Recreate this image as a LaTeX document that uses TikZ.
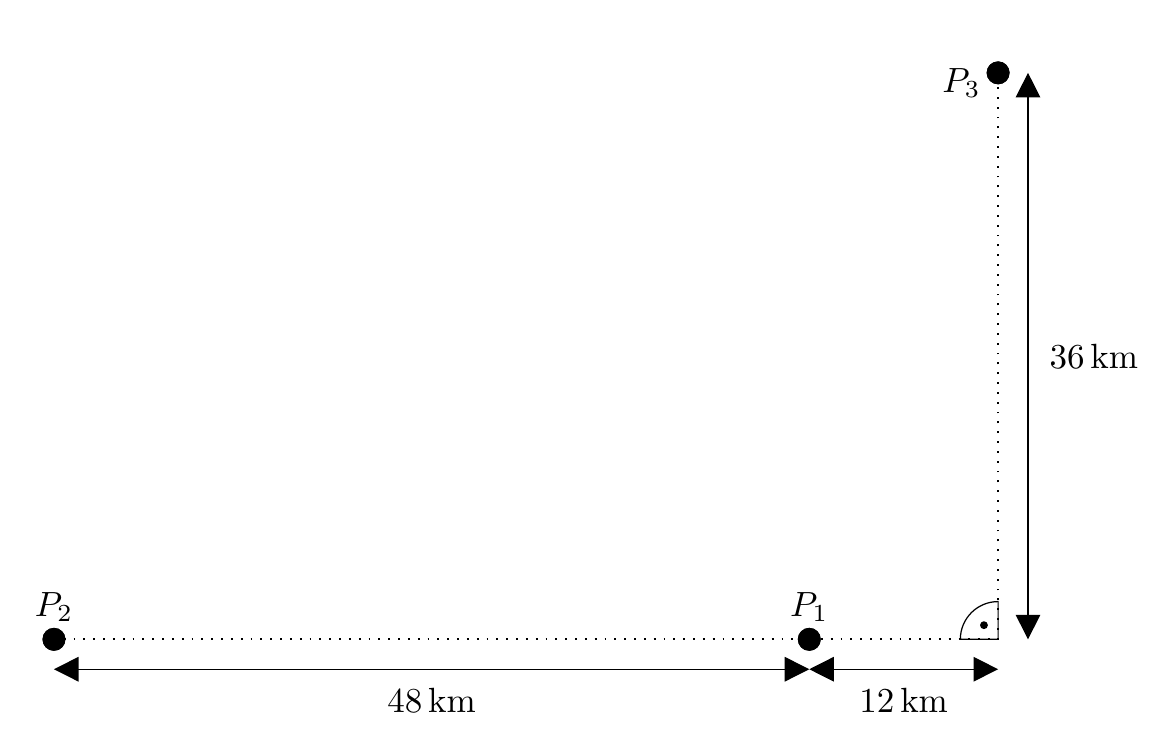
\documentclass[tikz,border=0pt]{standalone}
\usepackage{amsmath}
\usetikzlibrary{arrows.meta,positioning}

\begin{document}
\begin{tikzpicture}[x=0.18cm,y=0.18cm,semithick,every node/.style={scale=1.14}]
        \tikzstyle{point}=[circle, fill=black, inner sep=0pt, minimum size=2.3mm, scale=1]
        \tikzstyle{dim}=[{Triangle[length=8pt,width=8pt]}-{Triangle[length=8pt,width=8pt]}, thin]
        \useasboundingbox (-63.43,-6.67) rectangle (10.16,40.63);

        % points
        \coordinate (C) at (0,0);
        \node[point] (P2) at (-60,0)  {};
        \node[point] (P1) at (-12,0)  {};
        \node[point] (P3) at (0,36)   {};
        \node[above=-2.5pt of P2] {$P_2$};
        \node[above=-2.5pt of P1] {$P_1$};
        \node[left=-2.5pt of P3, yshift=-3pt] {$P_3$};

        % dotted sides
        \draw[line width=0.6pt, dash pattern=on 0.6pt off 2.6pt] (P2.center) -- (C) -- (P3.center);
        \node[point] at (P2) {};
        \node[point] at (P1) {};
        \node[point] at (P3) {};

        % right angle
        \draw[thin] (C) ++(-2.4,0) arc[start angle=180, end angle=90, radius=2.4] -- (C) -- cycle;
        \fill (-0.9,0.9) circle[radius=0.25];

        % dimensions
        \coordinate (a2) at (-60,-1.9);
        \coordinate (a1) at (-12,-1.9);
        \coordinate (a0) at (0,-1.9);
        \coordinate (b0) at (1.9,0);
        \coordinate (b3) at (1.9,36);
        \path (a2) edge[dim] node[below=2pt] {$48\,\mathrm{km}$} (a1)
              (a1) edge[dim] node[below=2pt] {$12\,\mathrm{km}$} (a0)
              (b0) edge[dim] node[right=3pt] {$36\,\mathrm{km}$} (b3);
      \end{tikzpicture}
\end{document}
